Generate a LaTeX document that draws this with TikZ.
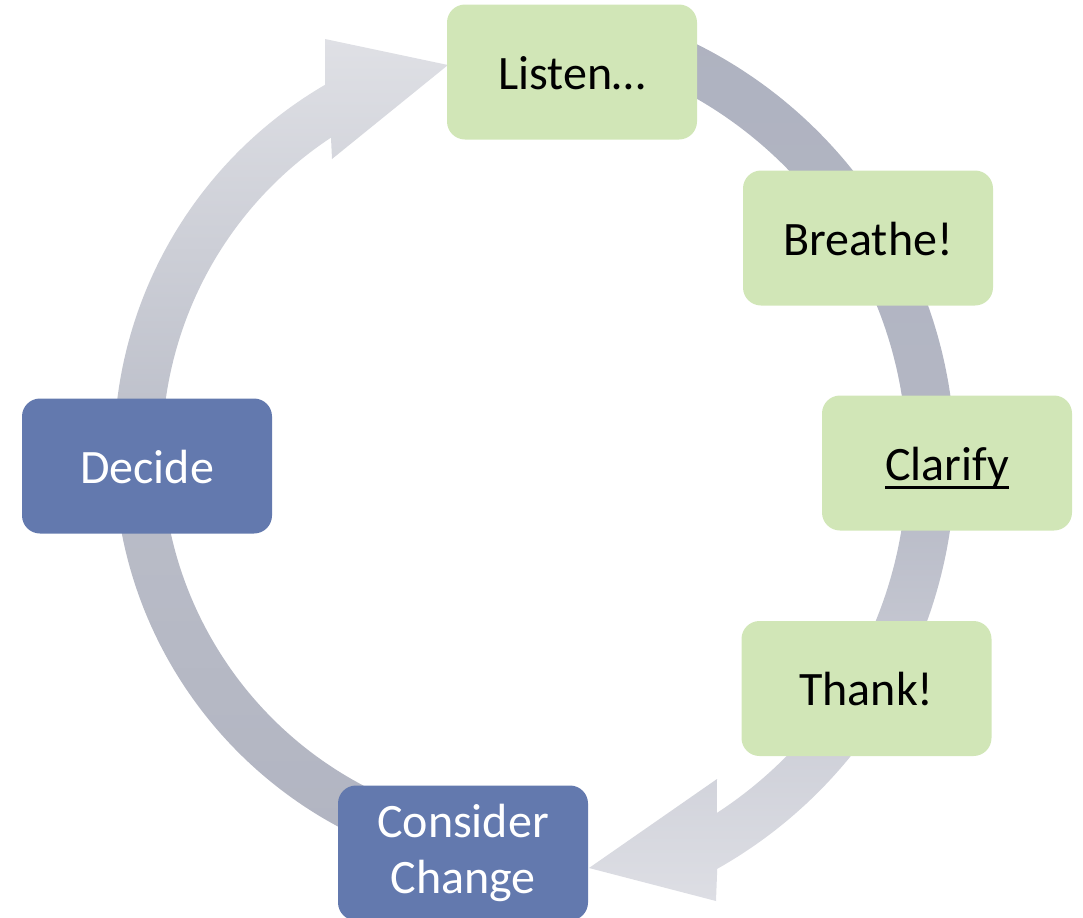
\documentclass[tikz,border=0pt]{standalone}
\usepackage{fontspec}
\setmainfont{Carlito}
\usetikzlibrary{calc}
\definecolor{boxgreen}{HTML}{D1E6B7}
\definecolor{boxblue}{HTML}{6379AE}
\definecolor{rDark}{HTML}{AEB2C0}
\definecolor{rMid}{HTML}{B4B7C4}
\definecolor{rLight}{HTML}{DDDEE4}
\definecolor{lDark}{HTML}{B1B4C1}
\definecolor{lMid}{HTML}{BABDC8}
\definecolor{lLight}{HTML}{DFE0E5}
\newcommand{\ulbox}[1]{\setbox0\hbox{#1}\rlap{\rule[-4.5pt]{\wd0}{1.5pt}}\box0}
\begin{document}
\begin{tikzpicture}[x=0.5pt,y=0.5pt,
  stepbox/.style={rectangle, rounded corners=9pt, minimum width=125pt,
    minimum height=67.5pt, inner sep=0pt, align=center,
    font=\fontsize{24}{28}\selectfont},
  oneline/.style={text height=17pt, text depth=0pt},
  greenbox/.style={stepbox, oneline, fill=boxgreen, text=black},
  bluebox/.style={stepbox, fill=boxblue, text=white}]
\useasboundingbox (0,0) rectangle (1083,-917);
\clip (0,0) rectangle (1083,-917);

\coordinate (cR) at (488,-462);
\coordinate (cL) at (539,-452);

% right block arc arrow (Listen -> Consider Change)
\shade[top color=rDark, bottom color=rLight, middle color=rMid]
  ($(cR)+(75:467)$) arc[start angle=75, end angle=-60.6, radius=467]
  -- (716,-901) -- (589,-868) -- (717,-779)
  -- ($(cR)+(-56.9:419)$) arc[start angle=-56.9, end angle=75, radius=419]
  -- cycle;

% left block arc arrow (Consider Change -> Listen)
\shade[top color=lLight, bottom color=lDark, middle color=lMid]
  ($(cL)+(-90:425)$) arc[start angle=-90, end angle=-239.77, radius=425]
  -- (325,-39) -- (448,-65) -- (332,-159)
  -- ($(cL)+(-236.51:377)$) arc[start angle=-236.51, end angle=-90, radius=377]
  -- cycle;

\node[greenbox] (listen) at (572,-72) {Listen…};
\node[greenbox] (breathe) at (868,-238) {Breathe!};
\node[greenbox] (clarify) at (947,-463) {\ulbox{Clarify}};
\node[greenbox] (thank) at (866.5,-688.5) {Thank!};
\node[bluebox] (consider) at (463,-853) {Consider\\Change};
\node[bluebox, oneline] (decide) at (147,-466) {Decide};
\end{tikzpicture}
\end{document}
